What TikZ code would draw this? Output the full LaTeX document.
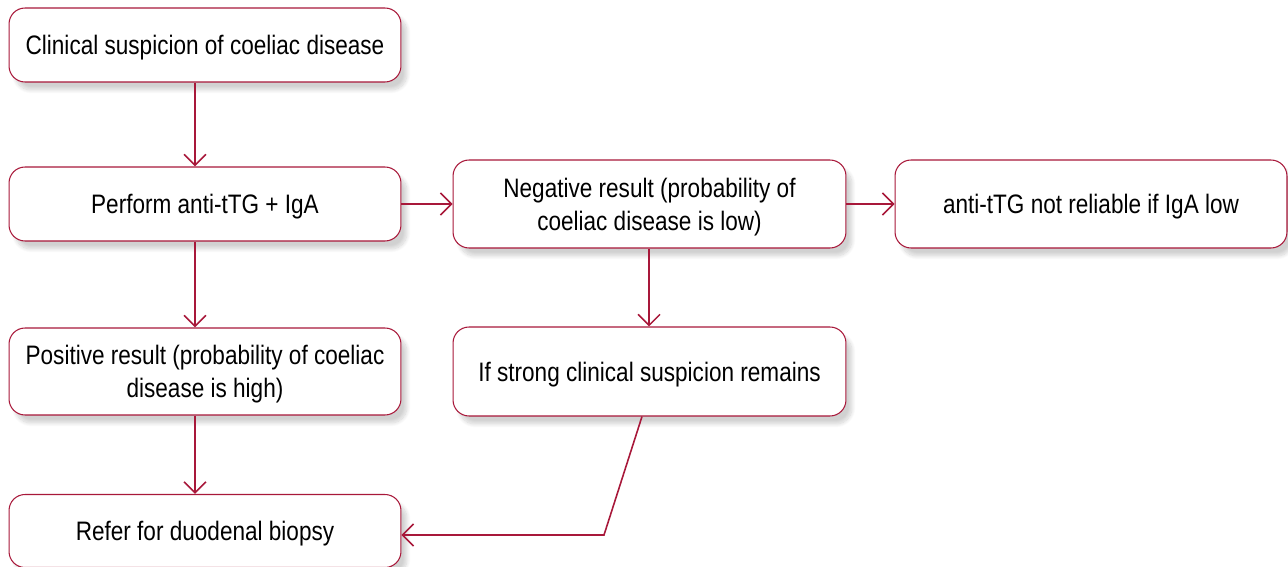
\documentclass[tikz,border=0pt]{standalone}
\usepackage{fontspec}
\setmainfont{Liberation Sans}[FakeStretch=0.845]
\usetikzlibrary{arrows.meta,shadows.blur}
\definecolor{crimson}{RGB}{168,24,58}
\newcommand{\lowr}{\rule{0pt}{16.8pt}}
\tikzset{
  stepbox/.style={draw=crimson, line width=0.6pt, rounded corners=0.32cm, fill=white,
    minimum width=7.84cm, align=center, inner sep=2pt,
    font=\fontsize{15.2}{18.8}\selectfont,
    blur shadow={shadow xshift=1.2mm, shadow yshift=-1.6mm, shadow blur steps=12, shadow opacity=18}},
  flow/.style={draw=crimson, line width=0.9pt, -{Straight Barb[length=2.2mm, width=4.4mm, line width=0.9pt]}}
}
\begin{document}
\begin{tikzpicture}[x=0.02cm, y=-0.02cm]
  \useasboundingbox (0,0) rectangle (1288,567);
  % boxes
  \node[stepbox, minimum height=1.48cm] (susp) at (205,45) {\lowr Clinical suspicion of coeliac disease\strut};
  \node[stepbox, minimum height=1.48cm] (test) at (205,204) {\lowr Perform anti-tTG + IgA\strut};
  \node[stepbox, minimum height=1.76cm, minimum width=7.86cm] (neg) at (649.5,204) {\lowr Negative result (probability of\\coeliac disease is low)\strut};
  \node[stepbox, minimum height=1.76cm] (iga) at (1091,204) {\lowr anti-tTG not reliable if IgA low\strut};
  \node[stepbox, minimum height=1.74cm] (pos) at (205,371.5) {\lowr Positive result (probability of coeliac\\disease is high)\strut};
  \node[stepbox, minimum height=1.78cm, minimum width=7.86cm] (strong) at (649.5,371.5) {\lowr If strong clinical suspicion remains\strut};
  \node[stepbox, minimum height=1.46cm] (biopsy) at (205,531) {\lowr Refer for duodenal biopsy\strut};
  % arrows
  \draw[flow] (susp.south -| 195,0) -- (test.north -| 195,0);
  \draw[flow] (test.south -| 195,0) -- (pos.north -| 195,0);
  \draw[flow] (pos.south -| 195,0) -- (biopsy.north -| 195,0);
  \draw[flow] (test.east) -- (neg.west);
  \draw[flow] (neg.east) -- (iga.west);
  \draw[flow] (neg.south -| 649,0) -- (strong.north -| 649,0);
  \coordinate (bend) at (604,535);
  \draw[flow] (strong.south -| 642,0) -- (bend) -- (biopsy.east |- bend);
\end{tikzpicture}
\end{document}
